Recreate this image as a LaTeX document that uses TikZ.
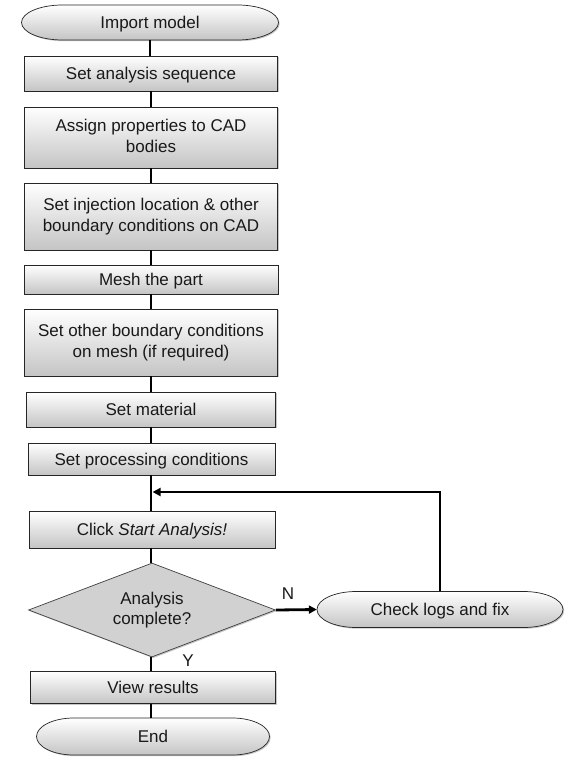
\documentclass[tikz,border=0pt]{standalone}
\usepackage{fontspec}
\setmainfont{Liberation Sans}
\usetikzlibrary{arrows.meta,shapes.geometric,shadows}
\tikzset{
  txt/.style={font=\fontsize{17}{20.5}\selectfont, text=black!90, align=center},
  lowered/.style={execute at begin node={\rule{0pt}{16.5pt}}, execute at end node={\rule[-3.6pt]{0pt}{3.6pt}}},
  lowereddec/.style={execute at begin node={\rule{0pt}{22pt}}, execute at end node={\rule[-3.6pt]{0pt}{3.6pt}}},
  boxshade/.style={top color=white, bottom color=black!23, draw=black!85, line width=0.7pt},
  shadowed/.style={drop shadow={shadow xshift=1.2pt, shadow yshift=-1.2pt, fill=black, opacity=0.22}},
  stepbox/.style={txt, lowered, boxshade, shadowed, rectangle, inner sep=0pt},
  decbox/.style={txt, lowereddec, diamond, aspect=2.6, inner sep=0pt, fill=black!18, draw=black!75, line width=0.7pt, shadowed},
  termtext/.style={txt, lowered, rectangle, inner sep=0pt},
  termshape/.style={boxshade, shadowed},
  conn/.style={line width=2.8pt, black},
  arr/.style={conn, -{Triangle[length=8pt,width=8pt]}},
  lbl/.style={txt},
}
\newcommand\terminal[6]{%
  \path[termshape] ({#2-#4/2+0.16*#4},{#3-#5/2}) -- ({#2+#4/2-0.16*#4},{#3-#5/2})
    arc[start angle=-90,end angle=90,x radius={0.16*#4},y radius={#5/2}]
    -- ({#2-#4/2+0.16*#4},{#3+#5/2})
    arc[start angle=90,end angle=270,x radius={0.16*#4},y radius={#5/2}] -- cycle;
  \node[termtext, minimum width=#4pt, minimum height=#5pt] (#1) at (#2,#3) {#6};}
\begin{document}
\begin{tikzpicture}[x=1pt,y=-1pt]
\fill[white] (0,0) rectangle (571,762);
\useasboundingbox (0,0) rectangle (571,762);

\terminal{start}{150}{22.5}{257}{35}{Import model}
\node[stepbox, minimum width=253pt, minimum height=35pt] (s1) at (151,73.5) {Set analysis sequence};
\node[stepbox, minimum width=253pt, minimum height=61pt] (s2) at (151,137.5) {Assign properties to CAD\\bodies};
\node[stepbox, minimum width=253pt, minimum height=67pt] (s3) at (151,216.5) {Set injection location \& other\\boundary conditions on CAD};
\node[stepbox, minimum width=254pt, minimum height=29pt] (s4) at (151,279.5) {Mesh the part};
\node[stepbox, minimum width=253pt, minimum height=67pt] (s5) at (151,342.5) {Set other boundary conditions\\on mesh (if required)};
\node[stepbox, minimum width=249pt, minimum height=35pt] (s6) at (151,409.5) {Set material};
\node[stepbox, minimum width=247pt, minimum height=32pt] (s7) at (151.5,459) {Set processing conditions};
\node[stepbox, minimum width=246pt, minimum height=37pt] (s8) at (152,529.5) {Click \textit{Start Analysis!}};
\node[decbox, minimum width=247pt, minimum height=94pt] (dec) at (152,610) {Analysis\\complete?};
\terminal{fix}{440}{609.5}{246}{36}{Check logs and fix}
\node[stepbox, minimum width=245pt, minimum height=32pt] (view) at (153,687.5) {View results};
\terminal{stop}{153}{736.5}{233}{37}{End}

\coordinate (loop) at (152.6,492);
\node[lbl] (nlab) at (288,594) {N};
\node[lbl] (ylab) at (188,661) {Y};

\draw[conn] (start.south) -- (start.south |- s1.north);
\draw[conn] (s1.south) -- (s1.south |- s2.north);
\draw[conn] (s2.south) -- (s2.south |- s3.north);
\draw[conn] (s3.south) -- (s3.south |- s4.north);
\draw[conn] (s4.south) -- (s4.south |- s5.north);
\draw[conn] (s5.south) -- (s5.south |- s6.north);
\draw[conn] (s6.south) -- (s6.south |- s7.north);
\draw[conn] (s6.south |- s7.south) -- (s6.south |- s8.north);
\draw[conn] (s6.south |- s8.south) -- (s6.south |- dec.north);
\draw[conn] (s6.south |- dec.south) -- (s6.south |- view.north);
\draw[conn] (s6.south |- view.south) -- (s6.south |- stop.north);
\draw[arr] (dec.east) -- (fix.west);
\draw[arr] (fix.north) -- (fix.north |- loop) -- (loop);
\end{tikzpicture}
\end{document}
